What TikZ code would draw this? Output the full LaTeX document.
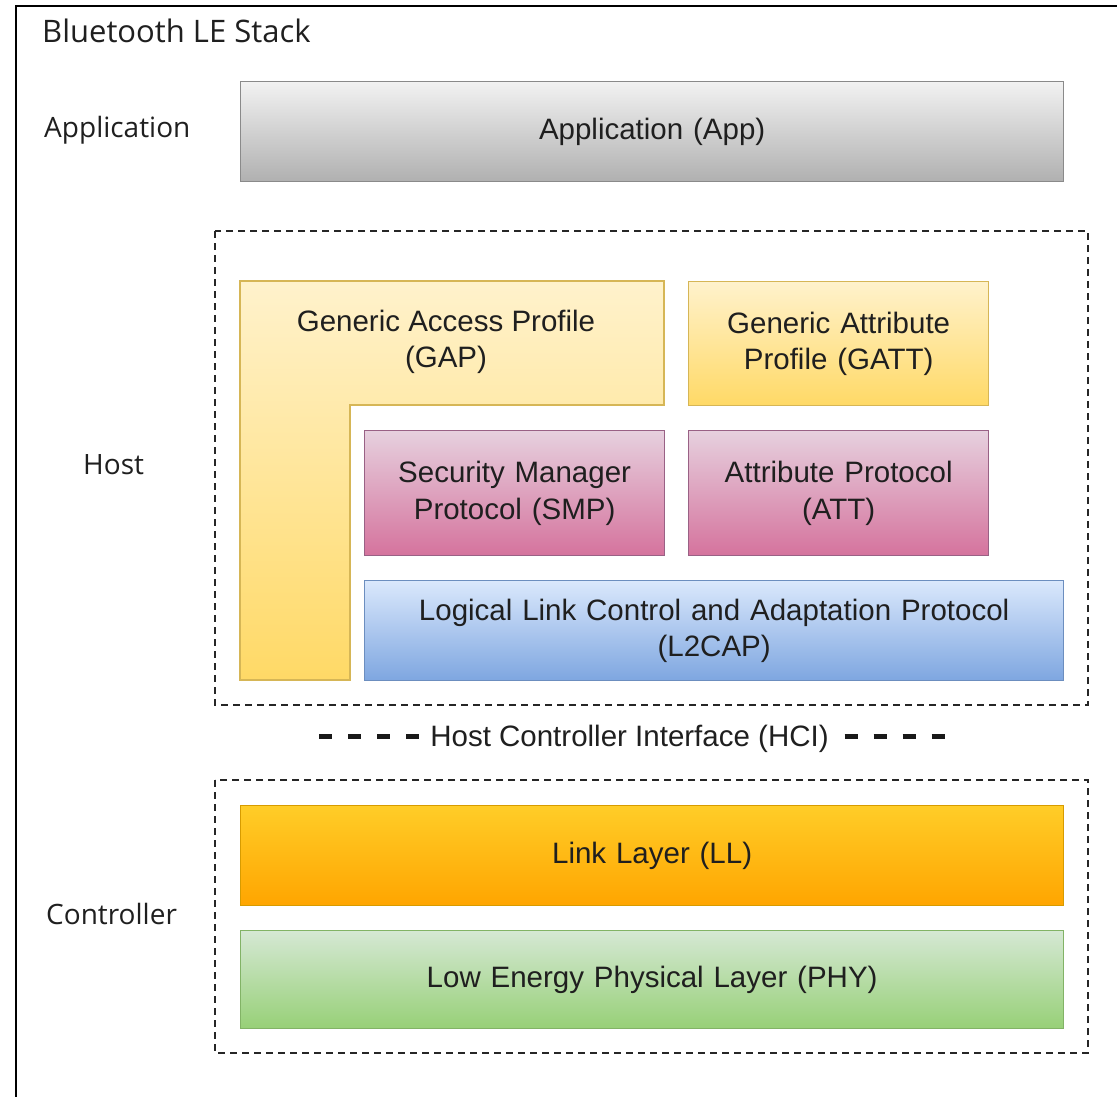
\documentclass[tikz,border=0pt]{standalone}
\usepackage{fontspec}
\setmainfont{Liberation Sans}
\newfontfamily\segoe{Open Sans}
\newcommand{\hcidash}{\textcolor{black!90}{\rule[7.8pt]{13pt}{4.6pt}}}
\begin{document}
\begin{tikzpicture}[x=1pt,y=-1pt,
  every node/.style={font=\fontsize{29.5}{36.5}\selectfont, text=black!88, align=center, inner sep=0pt},
  blk/.style={draw, line width=1.3pt, minimum width=#1, anchor=north west, text width=#1-30pt},
  sidelabel/.style={font=\segoe\fontsize{28}{34}\selectfont, anchor=west},
  grp/.style={draw=black!85, line width=1.4pt, dash pattern=on 7pt off 5pt},
]
\definecolor{appT}{HTML}{F2F2F2}\definecolor{appB}{HTML}{B0B0B0}\definecolor{appD}{HTML}{8A8A8A}
\definecolor{ylT}{HTML}{FFF2CC}\definecolor{ylB}{HTML}{FFD966}\definecolor{ylD}{HTML}{D6B656}
\definecolor{pkT}{HTML}{E6D0DE}\definecolor{pkB}{HTML}{D5739D}\definecolor{pkD}{HTML}{996185}
\definecolor{blT}{HTML}{DAE8FC}\definecolor{blB}{HTML}{7EA6E0}\definecolor{blD}{HTML}{6C8EBF}
\definecolor{orT}{HTML}{FFCD28}\definecolor{orB}{HTML}{FFA500}\definecolor{orD}{HTML}{D79B00}
\definecolor{gnT}{HTML}{D5E8D4}\definecolor{gnB}{HTML}{97D077}\definecolor{gnD}{HTML}{82B366}
\useasboundingbox (0,0) rectangle (1117,1097);
% outer frame (only top and left visible)
\draw[line width=2.2pt, black] (16,1097) -- (16,6) -- (1117,6);
\node[font=\segoe\fontsize{31}{36}\selectfont, anchor=west] (title) at (42,31) {Bluetooth LE Stack};
% side labels
\node[sidelabel] (lapp) at (44,130) {Application};
\node[sidelabel] (lhost) at (83,465) {Host};
\node[sidelabel] (lctrl) at (46,914) {Controller};
% group boxes
\draw[grp] (215,231) rectangle (1088,705);
\draw[grp] (215,780) rectangle (1088,1053);
% application
\node[blk=823pt, minimum height=100pt, draw=appD, top color=appT, bottom color=appB] (app) at (240,81) {Application (App)};
% GAP L-shape
\path[draw=ylD, line width=1.3pt, top color=ylT, bottom color=ylB]
  (240,281) -- (664,281) -- (664,405) -- (350,405) -- (350,680) -- (240,680) -- cycle;
\node (gap) at (446,342) {Generic Access Profile\\(GAP)};
% GATT
\node[blk=300pt, minimum height=124pt, draw=ylD, top color=ylT, bottom color=ylB] (gatt) at (688,281) {Generic Attribute Profile (GATT)};
% SMP, ATT
\node[blk=300pt, minimum height=125pt, draw=pkD, top color=pkT, bottom color=pkB] (smp) at (364,430) {Security Manager Protocol (SMP)};
\node[blk=300pt, minimum height=125pt, draw=pkD, top color=pkT, bottom color=pkB] (att) at (688,430) {Attribute Protocol\\(ATT)};
% L2CAP
\node[blk=699pt, minimum height=100pt, draw=blD, top color=blT, bottom color=blB] (l2cap) at (364,580) {Logical Link Control and Adaptation Protocol\\(L2CAP)};
% HCI
\node (hci) at (632,739) {\hcidash\hspace{16pt}\hcidash\hspace{16pt}\hcidash\hspace{16pt}\hcidash\hspace{11pt}Host Controller Interface (HCI)\hspace{16pt}\hcidash\hspace{16pt}\hcidash\hspace{16pt}\hcidash\hspace{16pt}\hcidash};
% controller
\node[blk=823pt, minimum height=100pt, draw=orD, top color=orT, bottom color=orB] (ll) at (240,805) {Link Layer (LL)};
\node[blk=823pt, minimum height=98pt, draw=gnD, top color=gnT, bottom color=gnB] (phy) at (240,930) {Low Energy Physical Layer (PHY)};
\end{tikzpicture}
\end{document}
